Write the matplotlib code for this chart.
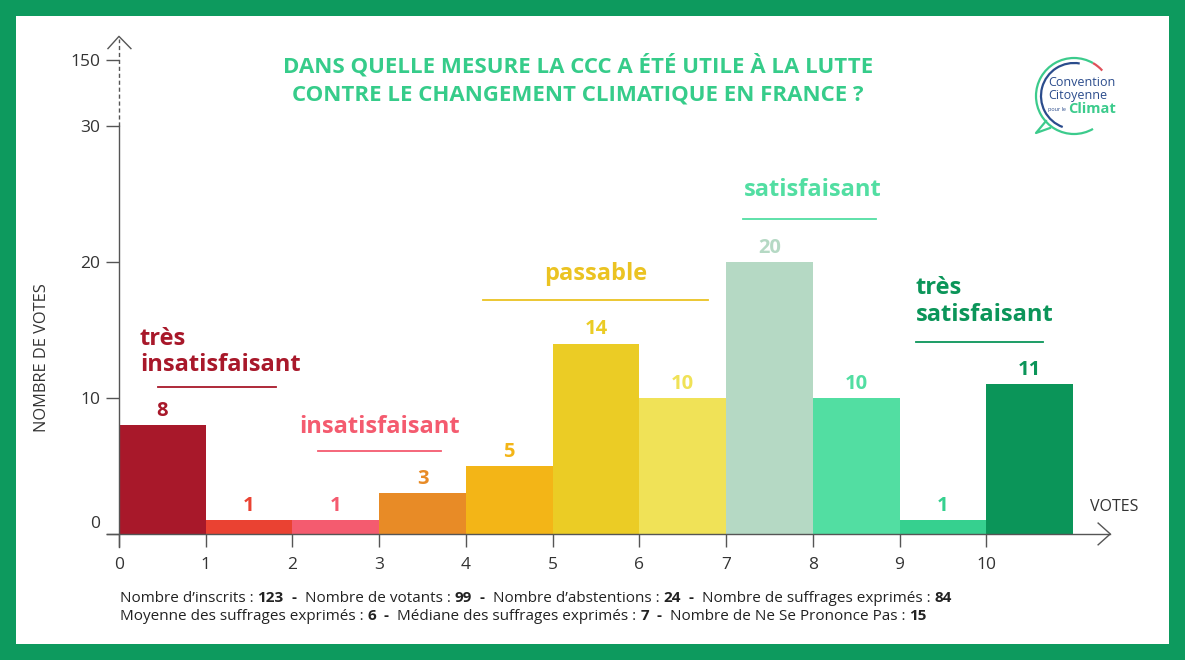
import numpy as np
import matplotlib.pyplot as plt
from matplotlib.patches import Rectangle, Arc
from matplotlib.transforms import ScaledTranslation

# data
scores = np.arange(11)
votes = [8, 1, 1, 3, 5, 14, 10, 20, 10, 1, 11]
bar_colors = ["#a8182a", "#ea4232", "#f45b6f", "#e88b26", "#f3b517",
              "#ebcc25", "#f0e257", "#b5d9c4", "#52dea2", "#36d08f", "#0b9559"]
y_ticks = [0, 10, 20, 30]
y_top_label = "150"

categories = ["très\ninsatisfaisant", "insatisfaisant", "passable",
              "satisfaisant", "très\nsatisfaisant"]
category_colors = ["#a8182a", "#f45b6f", "#ebc322", "#52dea2", "#0b9559"]

title = "DANS QUELLE MESURE LA CCC A ÉTÉ UTILE À LA LUTTE\nCONTRE LE CHANGEMENT CLIMATIQUE EN FRANCE ?"
footer = [
    [("Nombre d’inscrits", "123"), ("Nombre de votants", "99"),
     ("Nombre d’abstentions", "24"), ("Nombre de suffrages exprimés", "84")],
    [("Moyenne des suffrages exprimés", "6"), ("Médiane des suffrages exprimés", "7"),
     ("Nombre de Ne Se Prononce Pas", "15")],
]

W, H = 1185, 660
GREEN = "#0d9a5e"
AXC = "#555555"
FONT = ["Open Sans", "DejaVu Sans"]
plt.rcParams["font.family"] = FONT

fig = plt.figure(figsize=(W / 100, H / 100), dpi=100)
fig.patch.set_facecolor(GREEN)
fig.patches.append(Rectangle((16 / W, 16 / H), (W - 32) / W, (H - 32) / H,
                             transform=fig.transFigure, facecolor="white",
                             edgecolor="none", zorder=-10))

ax = fig.add_axes([107 / W, 1 - 547 / H, (1112 - 107) / W, (547 - 35) / H])
ax.set_facecolor("none")
ax.set_xlim(-0.138, 11.45)
ax.set_ylim(-0.96, 36.7)

ax.bar(scores + 0.5, votes, width=1.0, color=bar_colors, zorder=2)
for x, v, c in zip(scores, votes, bar_colors):
    ax.annotate(str(v), (x + 0.5, v), xytext=(0, 3), textcoords="offset points",
                ha="center", va="bottom", fontsize=14.5, fontweight="bold", color=c)

# axes
for s in ["top", "right"]:
    ax.spines[s].set_visible(False)
ax.spines["bottom"].set_position(("data", 0))
ax.spines["left"].set_position(("data", 0))
ax.spines["bottom"].set_bounds(-0.14, 11.43)
ax.spines["left"].set_bounds(-0.96, 30)
for s in ["bottom", "left"]:
    ax.spines[s].set_color(AXC)
    ax.spines[s].set_linewidth(1)
ax.plot([0, 0], [30, 36.4], color=AXC, lw=1, ls=(0, (3, 2)), clip_on=False)
ax.plot([-0.127, 0, 0.138], [35.7, 36.6, 35.7], color=AXC, lw=1, clip_on=False)
ax.plot([11.29, 11.43, 11.29], [0.8, 0, -0.8], color=AXC, lw=1, clip_on=False)

ax.set_xticks(scores)
ax.set_xticklabels([str(s) for s in scores])
top_pos = (534 - 60) / 13.6
ax.set_yticks(y_ticks + [top_pos])
ax.set_yticklabels([str(t) for t in y_ticks] + [y_top_label])
ax.tick_params(axis="both", direction="out", length=9.4, width=1, color=AXC,
               labelsize=12.5, labelcolor="#333333")
ax.tick_params(axis="x", pad=7)
ax.tick_params(axis="y", pad=4)
zero_lab = ax.get_yticklabels()[0]
zero_lab.set_transform(zero_lab.get_transform()
                       + ScaledTranslation(0, 0.12, fig.dpi_scale_trans))

fig.text(42 / W, 1 - 358 / H, "NOMBRE DE VOTES", rotation=90, ha="center",
         va="center", fontsize=11.8, color="#333333")
fig.text(1114 / W, 1 - 507 / H, "VOTES", ha="center", va="center",
         fontsize=11.5, color="#333333")

# category labels and underlines
cat_layout = [
    dict(x=0.24, y=13.4, ha="left", line=(0.45, 1.81, 10.8)),
    dict(x=3.01, y=7.87, ha="center", line=(2.3, 3.71, 6.1)),
    dict(x=5.5, y=19.1, ha="center", line=(4.2, 6.79, 17.2)),
    dict(x=8.0, y=25.3, ha="center", line=(7.2, 8.73, 23.16)),
    dict(x=9.19, y=17.1, ha="left", line=(9.19, 10.65, 14.1)),
]
for name, c, lay in zip(categories, category_colors, cat_layout):
    ax.text(lay["x"], lay["y"], name, ha=lay["ha"], va="center", color=c,
            fontsize=17, fontweight="bold", linespacing=1.12)
    x0, x1, yl = lay["line"]
    ax.plot([x0, x1], [yl, yl], color=c, lw=1.3)

fig.text(578 / W, 1 - 80 / H, title, ha="center", va="center", fontsize=16,
         fontweight="bold", color="#36cc8a", linespacing=1.45)

# footer with bold values
fig.canvas.draw()
renderer = fig.canvas.get_renderer()


def put(x, y, s, bold=False):
    t = fig.text(x / W, 1 - y / H, s, ha="left", va="baseline", fontsize=11,
                 color="#222222", fontweight="bold" if bold else "normal")
    return x + t.get_window_extent(renderer).width


for i, row in enumerate(footer):
    x = 120
    y = 602 + 18 * i
    for j, (lab, val) in enumerate(row):
        x = put(x, y, lab + " : ")
        x = put(x, y, val, bold=True)
        if j < len(row) - 1:
            x = put(x, y, "  -  ", bold=True)

# logo
lg = fig.add_axes([1025 / W, 1 - 140 / H, 110 / W, 90 / H])
lg.set_xlim(1025, 1135)
lg.set_ylim(140, 50)
lg.set_aspect("equal")
lg.axis("off")
lg.add_patch(Arc((1074, 96), 76, 76, theta1=60, theta2=300, color="#3ccb8c", lw=1.6))
lg.add_patch(Arc((1074, 96), 66, 66, theta1=110, theta2=280, color="#2b4c8c", lw=1.6))
lg.add_patch(Arc((1074, 96), 76, 76, theta1=300, theta2=318, color="#e0505a", lw=1.6))
lg.plot([1046, 1036, 1050], [121, 133, 128], color="#3ccb8c", lw=1.6)
lg.text(1048, 82, "Convention", fontsize=9, color="#2b4c8c", va="center")
lg.text(1048, 96, "Citoyenne", fontsize=9, color="#2b4c8c", va="center")
lg.text(1048, 110, "pour le", fontsize=4, color="#2b4c8c", va="center")
lg.text(1068, 109, "Climat", fontsize=10.5, color="#3ccb8c", va="center",
        fontweight="bold")

fig.savefig("out.png", dpi=100, facecolor=fig.get_facecolor())
